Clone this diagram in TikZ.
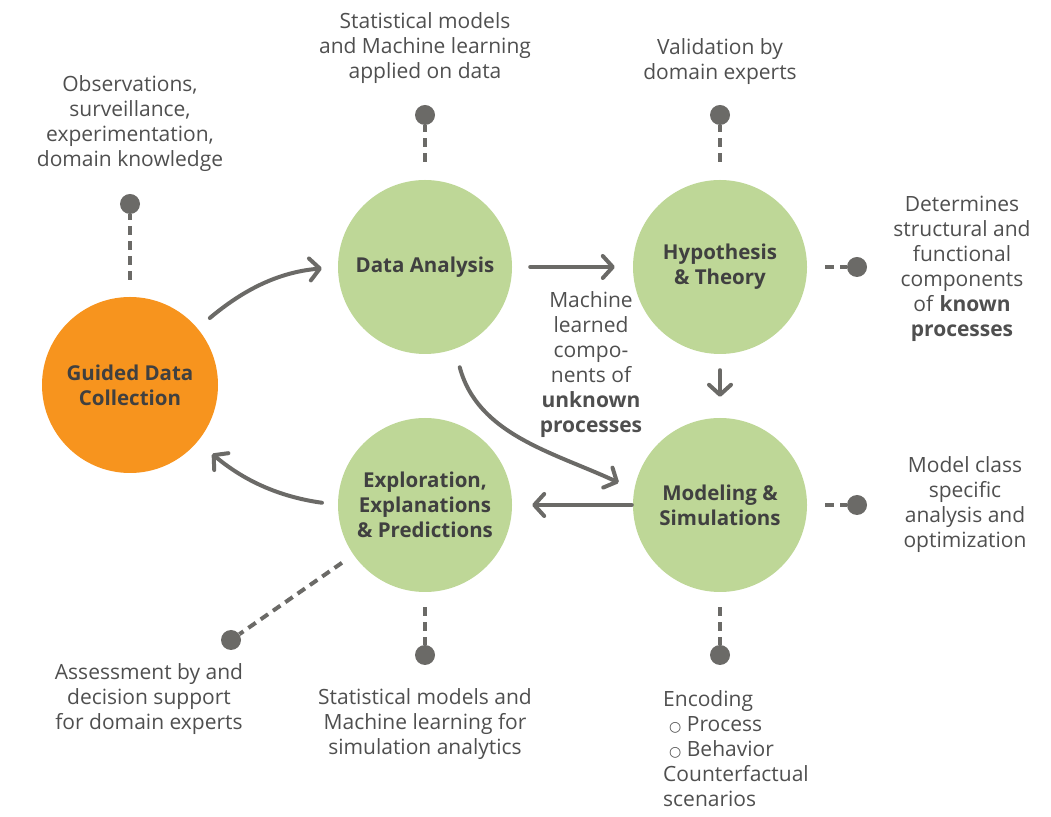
\documentclass[tikz,border=0pt]{standalone}
\usepackage{fontspec}
\setmainfont{Open Sans}
\newfontfamily\symfont{DejaVu Sans}
\usetikzlibrary{arrows.meta}
\definecolor{orangec}{HTML}{F7941E}
\definecolor{greenc}{HTML}{BED797}
\definecolor{txtc}{HTML}{4F4F4F}
\definecolor{boldc}{HTML}{404040}
\definecolor{linec}{HTML}{6B6A67}
\tikzset{
  circ/.style={circle, fill=greenc, minimum size=174pt, inner sep=0pt, align=center,
    text=boldc, font=\fontsize{20.5}{25}\selectfont\bfseries},
  ocirc/.style={circ, fill=orangec, minimum size=176pt},
  lbl/.style={align=center, text=txtc, inner sep=0pt, yshift=-3pt, font=\fontsize{21}{25}\selectfont},
  dot/.style={circle, fill=linec, minimum size=20pt, inner sep=0pt},
  arr/.style={draw=linec, line width=4pt, line cap=round,
    -{Straight Barb[round, length=10pt, width=22pt]}},
  dsh/.style={draw=linec, line width=4pt, dash pattern=on 9pt off 6pt},
}
\begin{document}
\begin{tikzpicture}[x=1pt, y=1pt]
\useasboundingbox (0,0) rectangle (1051,816);
% main circles
\node[ocirc] (g) at (130,431) {Guided Data\\Collection};
\node[circ] (da) at (425,549) {Data Analysis};
\node[circ] (ht) at (720,549) {Hypothesis\\\& Theory};
\node[circ] (ms) at (720,311) {Modeling \&\\Simulations};
\node[circ] (ex) at (425,311) {Exploration,\\Explanations\\\& Predictions};
% dots
\node[dot] (gdot) at (130,612) {};
\node[dot] (dadot) at (425,701) {};
\node[dot] (htdot) at (720,701) {};
\node[dot] (htr) at (857,549) {};
\node[dot] (msr) at (857,311) {};
\node[dot] (msb) at (720,161) {};
\node[dot] (exb) at (425,161) {};
\node[dot] (exd) at (231,176) {};
% labels
\node[lbl] (tobs) at (130,695) {Observations,\\surveillance,\\experimentation,\\domain knowledge};
\node[lbl] (tsm1) at (425,770.5) {Statistical models\\and Machine learning\\applied on data};
\node[lbl] (tval) at (720,757.5) {Validation by\\domain experts};
\node[lbl] (tdet) at (962,550.5) {Determines\\structural and\\functional\\components\\of \textbf{known}\\\textbf{processes}};
\node[lbl] (tmc) at (965,314.5) {Model class\\specific\\analysis and\\optimization};
\node[lbl] (tass) at (149,120) {Assessment by and\\decision support\\for domain experts};
\node[lbl] (tsm2) at (425,95) {Statistical models and\\Machine learning for\\simulation analytics};
\node[lbl, align=left, anchor=west] (tenc) at (663,70) {Encoding\\\hspace*{6pt}{\symfont\fontsize{14}{25}\selectfont ○} Process\\\hspace*{6pt}{\symfont\fontsize{14}{25}\selectfont ○} Behavior\\Counterfactual\\scenarios};
\node[lbl] (tmach) at (591,454.5) {Machine\\learned\\compo-\\nents of\\\textbf{unknown}\\\textbf{processes}};
% arrows
\draw[arr, shorten <=16pt, shorten >=16pt] (g.40) to[out=40, in=185] (da.west);
\draw[arr, shorten <=18pt, shorten >=18pt] (da.east) -- (ht.west);
\draw[arr, shorten <=16pt, shorten >=21pt] (ht.south) -- (ms.north);
\draw[arr, shorten <=1pt, shorten >=20pt] (ms.west) -- (ex.east);
\draw[arr, shorten <=16pt, shorten >=19pt] (ex.west) to[out=172, in=-40] (g.-40);
\draw[arr, shorten <=19pt, shorten >=17pt] (da.-70) to[out=-75, in=155] (ms.170);
% dashed connectors
\draw[dsh, shorten <=17pt] (g) -- (gdot);
\draw[dsh, shorten <=18pt] (da) -- (dadot);
\draw[dsh, shorten <=18pt] (ht) -- (htdot);
\draw[dsh, shorten <=18pt] (ht) -- (htr);
\draw[dsh, shorten <=18pt] (ms) -- (msr);
\draw[dsh, shorten <=15pt] (ms) -- (msb);
\draw[dsh, shorten <=15pt] (ex) -- (exb);
\draw[dsh, shorten <=14pt] (ex) -- (exd);
\end{tikzpicture}
\end{document}
